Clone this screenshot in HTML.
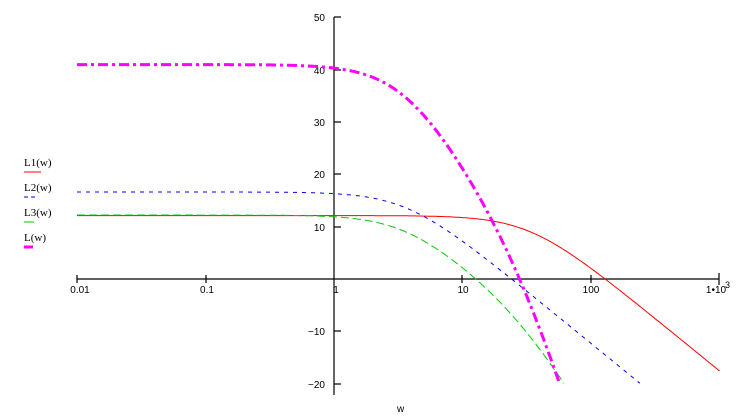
<!DOCTYPE html>
<html><head><meta charset="utf-8"><style>
html,body{margin:0;padding:0;background:#fff;}
svg{display:block;}
text{font-family:"Liberation Sans",sans-serif;font-size:10px;fill:#000;}
.lg{font-family:"Liberation Serif",serif;font-size:11px;}
</style></head><body>
<svg id="s" width="738" height="418" viewBox="0 0 738 418">
<g stroke="#000" stroke-width="1.2" fill="none">
<line x1="77" y1="279" x2="719" y2="279"/>
<line x1="334" y1="17" x2="334" y2="395"/>
<line x1="77" y1="275" x2="77" y2="283"/><line x1="206" y1="275" x2="206" y2="283"/>
<line x1="462" y1="275" x2="462" y2="283"/><line x1="591" y1="275" x2="591" y2="283"/>
<line x1="719" y1="273" x2="719" y2="285"/>
<line x1="334" y1="17" x2="341" y2="17"/><line x1="334" y1="70" x2="341" y2="70"/>
<line x1="334" y1="122" x2="341" y2="122"/><line x1="334" y1="174" x2="341" y2="174"/>
<line x1="334" y1="227" x2="341" y2="227"/><line x1="334" y1="331" x2="341" y2="331"/>
<line x1="334" y1="384" x2="341" y2="384"/>
</g>
<g text-anchor="end">
<text x="325" y="21">50</text><text x="325" y="74">40</text><text x="325" y="126">30</text>
<text x="325" y="178">20</text><text x="325" y="231">10</text><text x="325" y="335">−10</text>
<text x="325" y="388">−20</text>
</g>
<g text-anchor="middle">
<text x="80" y="293">0.01</text><text x="207" y="293">0.1</text><text x="336" y="293">1</text>
<text x="463" y="293">10</text><text x="591" y="293">100</text><text x="716" y="293">1•10</text>
</g>
<text x="725" y="288" style="font-size:9px">3</text>
<text x="397" y="412">w</text>
<text class="lg" x="24" y="166">L1(w)</text><line x1="24" y1="172" x2="41" y2="172" stroke="#f00"/>
<text class="lg" x="24" y="191">L2(w)</text><line x1="24" y1="197" x2="37" y2="197" stroke="#00f" stroke-dasharray="4,3"/>
<text class="lg" x="24" y="216">L3(w)</text><line x1="24" y1="222" x2="34" y2="222" stroke="#0c0"/>
<text class="lg" x="24" y="241">L(w)</text><line x1="24" y1="247" x2="33" y2="247" stroke="#f0f" stroke-width="3"/>
<path id="p1" fill="none" stroke="#f00" stroke-width="1"/>
<path id="p2" fill="none" stroke="#00f" stroke-width="1" stroke-dasharray="4,5"/>
<path id="p3" fill="none" stroke="#0c0" stroke-width="1" stroke-dasharray="8,4"/>
<path id="p4" fill="none" stroke="#f0f" stroke-width="3" stroke-dasharray="10,4,3,4"/>
</svg>
<script>
function lg(x){return Math.log10(x);}
function L1(w){return 12.1-10*lg(1+Math.pow(w/33,2));}
function L2(w){return 16.6-10*lg(1+Math.pow(w/3.6,2));}
function L3(w){return 12.2-10*lg(1+Math.pow(w/3.5,2))-10*lg(1+Math.pow(w/30,2));}
function L(w){return L1(w)+L2(w)+L3(w);}
function X(w){return 334+128.5*lg(w);}
function Y(v){return 279-5.243*v;}
function mk(f,id){var d="";for(var e=-2;e<=3.0001;e+=0.01){var w=Math.pow(10,e);var v=f(w);if(v<-20)break;d+=(d?"L":"M")+X(w).toFixed(1)+","+Y(v).toFixed(1);}document.getElementById(id).setAttribute("d",d);}
mk(L1,"p1");mk(L2,"p2");mk(L3,"p3");mk(L,"p4");
</script>
</body></html>
